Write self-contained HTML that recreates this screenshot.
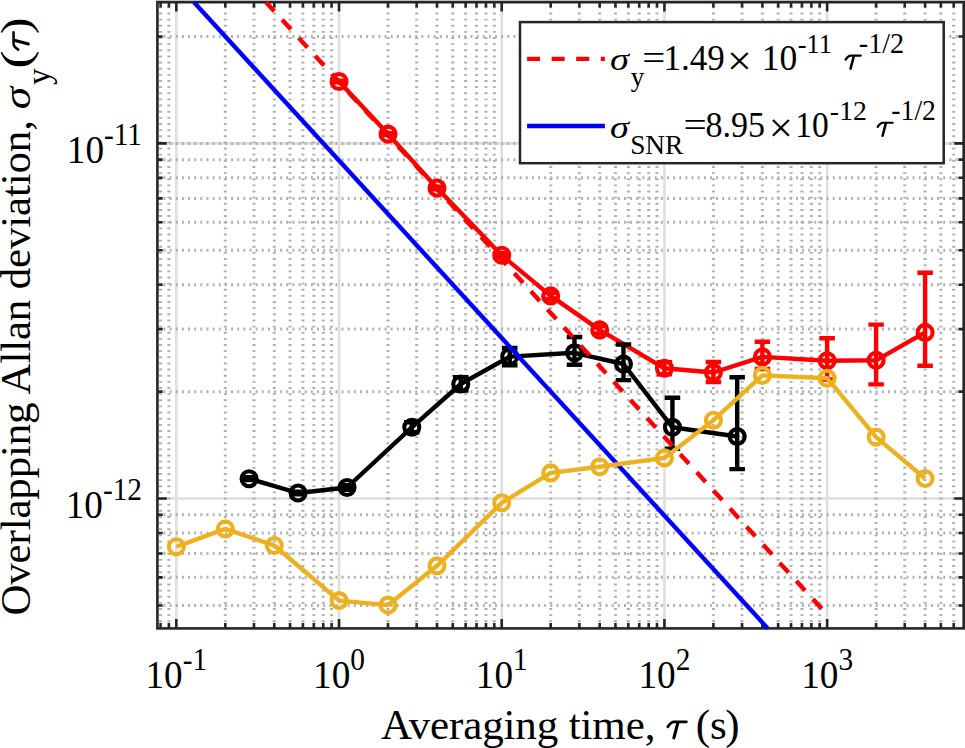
<!DOCTYPE html>
<html><head><meta charset="utf-8"><style>
html,body{margin:0;padding:0;background:#fff;width:965px;height:748px;overflow:hidden;}
svg{display:block;font-family:"Liberation Serif",serif;}
</style></head><body>
<svg width="965" height="748" viewBox="0 0 965 748"><rect x="0" y="0" width="965" height="748" fill="#fff"/>
<line x1="176.33" y1="2.2" x2="176.33" y2="628.4" stroke="#dedede" stroke-width="2.6"/>
<line x1="339.03" y1="2.2" x2="339.03" y2="628.4" stroke="#dedede" stroke-width="2.6"/>
<line x1="501.73" y1="2.2" x2="501.73" y2="628.4" stroke="#dedede" stroke-width="2.6"/>
<line x1="664.43" y1="2.2" x2="664.43" y2="628.4" stroke="#dedede" stroke-width="2.6"/>
<line x1="827.13" y1="2.2" x2="827.13" y2="628.4" stroke="#dedede" stroke-width="2.6"/>
<line x1="157.4" y1="143.40" x2="963.7" y2="143.40" stroke="#dedede" stroke-width="2.6"/>
<line x1="157.4" y1="498.55" x2="963.7" y2="498.55" stroke="#dedede" stroke-width="2.6"/>
<line x1="160.56" y1="628.4" x2="160.56" y2="2.2" stroke="#afafaf" stroke-width="3" stroke-dasharray="1.9 4.24"/>
<line x1="168.89" y1="628.4" x2="168.89" y2="2.2" stroke="#afafaf" stroke-width="3" stroke-dasharray="1.9 4.24"/>
<line x1="225.31" y1="628.4" x2="225.31" y2="2.2" stroke="#afafaf" stroke-width="3" stroke-dasharray="1.9 4.24"/>
<line x1="253.96" y1="628.4" x2="253.96" y2="2.2" stroke="#afafaf" stroke-width="3" stroke-dasharray="1.9 4.24"/>
<line x1="274.29" y1="628.4" x2="274.29" y2="2.2" stroke="#afafaf" stroke-width="3" stroke-dasharray="1.9 4.24"/>
<line x1="290.05" y1="628.4" x2="290.05" y2="2.2" stroke="#afafaf" stroke-width="3" stroke-dasharray="1.9 4.24"/>
<line x1="302.94" y1="628.4" x2="302.94" y2="2.2" stroke="#afafaf" stroke-width="3" stroke-dasharray="1.9 4.24"/>
<line x1="313.83" y1="628.4" x2="313.83" y2="2.2" stroke="#afafaf" stroke-width="3" stroke-dasharray="1.9 4.24"/>
<line x1="323.26" y1="628.4" x2="323.26" y2="2.2" stroke="#afafaf" stroke-width="3" stroke-dasharray="1.9 4.24"/>
<line x1="331.59" y1="628.4" x2="331.59" y2="2.2" stroke="#afafaf" stroke-width="3" stroke-dasharray="1.9 4.24"/>
<line x1="388.01" y1="628.4" x2="388.01" y2="2.2" stroke="#afafaf" stroke-width="3" stroke-dasharray="1.9 4.24"/>
<line x1="416.66" y1="628.4" x2="416.66" y2="2.2" stroke="#afafaf" stroke-width="3" stroke-dasharray="1.9 4.24"/>
<line x1="436.99" y1="628.4" x2="436.99" y2="2.2" stroke="#afafaf" stroke-width="3" stroke-dasharray="1.9 4.24"/>
<line x1="452.75" y1="628.4" x2="452.75" y2="2.2" stroke="#afafaf" stroke-width="3" stroke-dasharray="1.9 4.24"/>
<line x1="465.64" y1="628.4" x2="465.64" y2="2.2" stroke="#afafaf" stroke-width="3" stroke-dasharray="1.9 4.24"/>
<line x1="476.53" y1="628.4" x2="476.53" y2="2.2" stroke="#afafaf" stroke-width="3" stroke-dasharray="1.9 4.24"/>
<line x1="485.96" y1="628.4" x2="485.96" y2="2.2" stroke="#afafaf" stroke-width="3" stroke-dasharray="1.9 4.24"/>
<line x1="494.29" y1="628.4" x2="494.29" y2="2.2" stroke="#afafaf" stroke-width="3" stroke-dasharray="1.9 4.24"/>
<line x1="550.71" y1="628.4" x2="550.71" y2="2.2" stroke="#afafaf" stroke-width="3" stroke-dasharray="1.9 4.24"/>
<line x1="579.36" y1="628.4" x2="579.36" y2="2.2" stroke="#afafaf" stroke-width="3" stroke-dasharray="1.9 4.24"/>
<line x1="599.69" y1="628.4" x2="599.69" y2="2.2" stroke="#afafaf" stroke-width="3" stroke-dasharray="1.9 4.24"/>
<line x1="615.45" y1="628.4" x2="615.45" y2="2.2" stroke="#afafaf" stroke-width="3" stroke-dasharray="1.9 4.24"/>
<line x1="628.34" y1="628.4" x2="628.34" y2="2.2" stroke="#afafaf" stroke-width="3" stroke-dasharray="1.9 4.24"/>
<line x1="639.23" y1="628.4" x2="639.23" y2="2.2" stroke="#afafaf" stroke-width="3" stroke-dasharray="1.9 4.24"/>
<line x1="648.66" y1="628.4" x2="648.66" y2="2.2" stroke="#afafaf" stroke-width="3" stroke-dasharray="1.9 4.24"/>
<line x1="656.99" y1="628.4" x2="656.99" y2="2.2" stroke="#afafaf" stroke-width="3" stroke-dasharray="1.9 4.24"/>
<line x1="713.41" y1="628.4" x2="713.41" y2="2.2" stroke="#afafaf" stroke-width="3" stroke-dasharray="1.9 4.24"/>
<line x1="742.06" y1="628.4" x2="742.06" y2="2.2" stroke="#afafaf" stroke-width="3" stroke-dasharray="1.9 4.24"/>
<line x1="762.39" y1="628.4" x2="762.39" y2="2.2" stroke="#afafaf" stroke-width="3" stroke-dasharray="1.9 4.24"/>
<line x1="778.15" y1="628.4" x2="778.15" y2="2.2" stroke="#afafaf" stroke-width="3" stroke-dasharray="1.9 4.24"/>
<line x1="791.04" y1="628.4" x2="791.04" y2="2.2" stroke="#afafaf" stroke-width="3" stroke-dasharray="1.9 4.24"/>
<line x1="801.93" y1="628.4" x2="801.93" y2="2.2" stroke="#afafaf" stroke-width="3" stroke-dasharray="1.9 4.24"/>
<line x1="811.36" y1="628.4" x2="811.36" y2="2.2" stroke="#afafaf" stroke-width="3" stroke-dasharray="1.9 4.24"/>
<line x1="819.69" y1="628.4" x2="819.69" y2="2.2" stroke="#afafaf" stroke-width="3" stroke-dasharray="1.9 4.24"/>
<line x1="876.11" y1="628.4" x2="876.11" y2="2.2" stroke="#afafaf" stroke-width="3" stroke-dasharray="1.9 4.24"/>
<line x1="904.76" y1="628.4" x2="904.76" y2="2.2" stroke="#afafaf" stroke-width="3" stroke-dasharray="1.9 4.24"/>
<line x1="925.09" y1="628.4" x2="925.09" y2="2.2" stroke="#afafaf" stroke-width="3" stroke-dasharray="1.9 4.24"/>
<line x1="940.85" y1="628.4" x2="940.85" y2="2.2" stroke="#afafaf" stroke-width="3" stroke-dasharray="1.9 4.24"/>
<line x1="953.74" y1="628.4" x2="953.74" y2="2.2" stroke="#afafaf" stroke-width="3" stroke-dasharray="1.9 4.24"/>
<line x1="157.4" y1="605.46" x2="963.7" y2="605.46" stroke="#afafaf" stroke-width="3" stroke-dasharray="1.9 4.24"/>
<line x1="157.4" y1="577.34" x2="963.7" y2="577.34" stroke="#afafaf" stroke-width="3" stroke-dasharray="1.9 4.24"/>
<line x1="157.4" y1="553.56" x2="963.7" y2="553.56" stroke="#afafaf" stroke-width="3" stroke-dasharray="1.9 4.24"/>
<line x1="157.4" y1="532.97" x2="963.7" y2="532.97" stroke="#afafaf" stroke-width="3" stroke-dasharray="1.9 4.24"/>
<line x1="157.4" y1="514.80" x2="963.7" y2="514.80" stroke="#afafaf" stroke-width="3" stroke-dasharray="1.9 4.24"/>
<line x1="157.4" y1="391.64" x2="963.7" y2="391.64" stroke="#afafaf" stroke-width="3" stroke-dasharray="1.9 4.24"/>
<line x1="157.4" y1="329.10" x2="963.7" y2="329.10" stroke="#afafaf" stroke-width="3" stroke-dasharray="1.9 4.24"/>
<line x1="157.4" y1="284.73" x2="963.7" y2="284.73" stroke="#afafaf" stroke-width="3" stroke-dasharray="1.9 4.24"/>
<line x1="157.4" y1="250.31" x2="963.7" y2="250.31" stroke="#afafaf" stroke-width="3" stroke-dasharray="1.9 4.24"/>
<line x1="157.4" y1="222.19" x2="963.7" y2="222.19" stroke="#afafaf" stroke-width="3" stroke-dasharray="1.9 4.24"/>
<line x1="157.4" y1="198.41" x2="963.7" y2="198.41" stroke="#afafaf" stroke-width="3" stroke-dasharray="1.9 4.24"/>
<line x1="157.4" y1="177.82" x2="963.7" y2="177.82" stroke="#afafaf" stroke-width="3" stroke-dasharray="1.9 4.24"/>
<line x1="157.4" y1="159.65" x2="963.7" y2="159.65" stroke="#afafaf" stroke-width="3" stroke-dasharray="1.9 4.24"/>
<line x1="157.4" y1="143.40" x2="963.7" y2="143.40" stroke="#afafaf" stroke-width="3" stroke-dasharray="1.9 4.24"/>
<line x1="157.4" y1="36.49" x2="963.7" y2="36.49" stroke="#afafaf" stroke-width="3" stroke-dasharray="1.9 4.24"/>
<path d="M176.33,628.4v-9.4M176.33,2.2v9.4M339.03,628.4v-9.4M339.03,2.2v9.4M501.73,628.4v-9.4M501.73,2.2v9.4M664.43,628.4v-9.4M664.43,2.2v9.4M827.13,628.4v-9.4M827.13,2.2v9.4M160.56,628.4v-5.3M160.56,2.2v5.3M168.89,628.4v-5.3M168.89,2.2v5.3M225.31,628.4v-5.3M225.31,2.2v5.3M253.96,628.4v-5.3M253.96,2.2v5.3M274.29,628.4v-5.3M274.29,2.2v5.3M290.05,628.4v-5.3M290.05,2.2v5.3M302.94,628.4v-5.3M302.94,2.2v5.3M313.83,628.4v-5.3M313.83,2.2v5.3M323.26,628.4v-5.3M323.26,2.2v5.3M331.59,628.4v-5.3M331.59,2.2v5.3M388.01,628.4v-5.3M388.01,2.2v5.3M416.66,628.4v-5.3M416.66,2.2v5.3M436.99,628.4v-5.3M436.99,2.2v5.3M452.75,628.4v-5.3M452.75,2.2v5.3M465.64,628.4v-5.3M465.64,2.2v5.3M476.53,628.4v-5.3M476.53,2.2v5.3M485.96,628.4v-5.3M485.96,2.2v5.3M494.29,628.4v-5.3M494.29,2.2v5.3M550.71,628.4v-5.3M550.71,2.2v5.3M579.36,628.4v-5.3M579.36,2.2v5.3M599.69,628.4v-5.3M599.69,2.2v5.3M615.45,628.4v-5.3M615.45,2.2v5.3M628.34,628.4v-5.3M628.34,2.2v5.3M639.23,628.4v-5.3M639.23,2.2v5.3M648.66,628.4v-5.3M648.66,2.2v5.3M656.99,628.4v-5.3M656.99,2.2v5.3M713.41,628.4v-5.3M713.41,2.2v5.3M742.06,628.4v-5.3M742.06,2.2v5.3M762.39,628.4v-5.3M762.39,2.2v5.3M778.15,628.4v-5.3M778.15,2.2v5.3M791.04,628.4v-5.3M791.04,2.2v5.3M801.93,628.4v-5.3M801.93,2.2v5.3M811.36,628.4v-5.3M811.36,2.2v5.3M819.69,628.4v-5.3M819.69,2.2v5.3M876.11,628.4v-5.3M876.11,2.2v5.3M904.76,628.4v-5.3M904.76,2.2v5.3M925.09,628.4v-5.3M925.09,2.2v5.3M940.85,628.4v-5.3M940.85,2.2v5.3M953.74,628.4v-5.3M953.74,2.2v5.3M157.4,143.40h9.4M963.7,143.40h-9.4M157.4,498.55h9.4M963.7,498.55h-9.4M157.4,605.46h5.3M963.7,605.46h-5.3M157.4,577.34h5.3M963.7,577.34h-5.3M157.4,553.56h5.3M963.7,553.56h-5.3M157.4,532.97h5.3M963.7,532.97h-5.3M157.4,514.80h5.3M963.7,514.80h-5.3M157.4,391.64h5.3M963.7,391.64h-5.3M157.4,329.10h5.3M963.7,329.10h-5.3M157.4,284.73h5.3M963.7,284.73h-5.3M157.4,250.31h5.3M963.7,250.31h-5.3M157.4,222.19h5.3M963.7,222.19h-5.3M157.4,198.41h5.3M963.7,198.41h-5.3M157.4,177.82h5.3M963.7,177.82h-5.3M157.4,159.65h5.3M963.7,159.65h-5.3M157.4,36.49h5.3M963.7,36.49h-5.3" stroke="#262626" stroke-width="2.6" fill="none"/>
<rect x="155.9" y="0" width="809.1" height="1" fill="#d2d2d2"/>
<rect x="157.4" y="2.2" width="806.30" height="626.20" fill="none" stroke="#262626" stroke-width="2.6"/>
<g fill="none" stroke-linejoin="round">
<polyline points="339.03,81.45 388.01,134.10 436.99,188.00 501.73,255.30 550.71,295.90 599.69,329.90 664.43,368.30 713.41,372.50 762.39,356.90 827.13,360.70 876.11,360.30 925.09,332.40" stroke="#ff0000" stroke-width="4.4"/>
<circle cx="339.03" cy="81.45" r="7.5" stroke="#ff0000" stroke-width="4.1"/>
<circle cx="388.01" cy="134.10" r="7.5" stroke="#ff0000" stroke-width="4.1"/>
<circle cx="436.99" cy="188.00" r="7.5" stroke="#ff0000" stroke-width="4.1"/>
<circle cx="501.73" cy="255.30" r="7.5" stroke="#ff0000" stroke-width="4.1"/>
<circle cx="550.71" cy="295.90" r="7.5" stroke="#ff0000" stroke-width="4.1"/>
<circle cx="599.69" cy="329.90" r="7.5" stroke="#ff0000" stroke-width="4.1"/>
<circle cx="664.43" cy="368.30" r="7.5" stroke="#ff0000" stroke-width="4.1"/>
<circle cx="713.41" cy="372.50" r="7.5" stroke="#ff0000" stroke-width="4.1"/>
<circle cx="762.39" cy="356.90" r="7.5" stroke="#ff0000" stroke-width="4.1"/>
<circle cx="827.13" cy="360.70" r="7.5" stroke="#ff0000" stroke-width="4.1"/>
<circle cx="876.11" cy="360.30" r="7.5" stroke="#ff0000" stroke-width="4.1"/>
<circle cx="925.09" cy="332.40" r="7.5" stroke="#ff0000" stroke-width="4.1"/>
<path d="M339.03,80.65V82.25M331.28,80.65H346.78M331.28,82.25H346.78" stroke="#ff0000" stroke-width="4.4" stroke-linecap="butt"/>
<path d="M388.01,133.10V135.10M380.26,133.10H395.76M380.26,135.10H395.76" stroke="#ff0000" stroke-width="4.4" stroke-linecap="butt"/>
<path d="M436.99,186.70V189.30M429.24,186.70H444.74M429.24,189.30H444.74" stroke="#ff0000" stroke-width="4.4" stroke-linecap="butt"/>
<path d="M501.73,253.30V257.30M493.98,253.30H509.48M493.98,257.30H509.48" stroke="#ff0000" stroke-width="4.4" stroke-linecap="butt"/>
<path d="M550.71,292.90V298.90M542.96,292.90H558.46M542.96,298.90H558.46" stroke="#ff0000" stroke-width="4.4" stroke-linecap="butt"/>
<path d="M599.69,326.40V333.40M591.94,326.40H607.44M591.94,333.40H607.44" stroke="#ff0000" stroke-width="4.4" stroke-linecap="butt"/>
<path d="M664.43,362.30V374.30M656.68,362.30H672.18M656.68,374.30H672.18" stroke="#ff0000" stroke-width="4.4" stroke-linecap="butt"/>
<path d="M713.41,362.00V382.00M705.66,362.00H721.16M705.66,382.00H721.16" stroke="#ff0000" stroke-width="4.4" stroke-linecap="butt"/>
<path d="M762.39,341.80V369.00M754.64,341.80H770.14M754.64,369.00H770.14" stroke="#ff0000" stroke-width="4.4" stroke-linecap="butt"/>
<path d="M827.13,338.20V379.50M819.38,338.20H834.88M819.38,379.50H834.88" stroke="#ff0000" stroke-width="4.4" stroke-linecap="butt"/>
<path d="M876.11,324.60V384.40M868.36,324.60H883.86M868.36,384.40H883.86" stroke="#ff0000" stroke-width="4.4" stroke-linecap="butt"/>
<path d="M925.09,272.70V365.70M917.34,272.70H932.84M917.34,365.70H932.84" stroke="#ff0000" stroke-width="4.4" stroke-linecap="butt"/>
<polyline points="249.08,478.70 298.06,493.00 347.04,487.50 411.78,427.30 460.76,384.00 509.74,356.60 574.48,352.80 623.46,364.00 672.44,427.30 737.18,436.50" stroke="#000000" stroke-width="4.4"/>
<circle cx="249.08" cy="478.70" r="7.5" stroke="#000000" stroke-width="4.1"/>
<circle cx="298.06" cy="493.00" r="7.5" stroke="#000000" stroke-width="4.1"/>
<circle cx="347.04" cy="487.50" r="7.5" stroke="#000000" stroke-width="4.1"/>
<circle cx="411.78" cy="427.30" r="7.5" stroke="#000000" stroke-width="4.1"/>
<circle cx="460.76" cy="384.00" r="7.5" stroke="#000000" stroke-width="4.1"/>
<circle cx="509.74" cy="356.60" r="7.5" stroke="#000000" stroke-width="4.1"/>
<circle cx="574.48" cy="352.80" r="7.5" stroke="#000000" stroke-width="4.1"/>
<circle cx="623.46" cy="364.00" r="7.5" stroke="#000000" stroke-width="4.1"/>
<circle cx="672.44" cy="427.30" r="7.5" stroke="#000000" stroke-width="4.1"/>
<circle cx="737.18" cy="436.50" r="7.5" stroke="#000000" stroke-width="4.1"/>
<path d="M249.08,477.30V480.10M241.33,477.30H256.83M241.33,480.10H256.83" stroke="#000000" stroke-width="4.4" stroke-linecap="butt"/>
<path d="M298.06,491.70V494.30M290.31,491.70H305.81M290.31,494.30H305.81" stroke="#000000" stroke-width="4.4" stroke-linecap="butt"/>
<path d="M347.04,485.30V489.70M339.29,485.30H354.79M339.29,489.70H354.79" stroke="#000000" stroke-width="4.4" stroke-linecap="butt"/>
<path d="M411.78,422.30V432.30M404.03,422.30H419.53M404.03,432.30H419.53" stroke="#000000" stroke-width="4.4" stroke-linecap="butt"/>
<path d="M460.76,377.20V390.50M453.01,377.20H468.51M453.01,390.50H468.51" stroke="#000000" stroke-width="4.4" stroke-linecap="butt"/>
<path d="M509.74,348.00V365.20M501.99,348.00H517.49M501.99,365.20H517.49" stroke="#000000" stroke-width="4.4" stroke-linecap="butt"/>
<path d="M574.48,337.00V364.80M566.73,337.00H582.23M566.73,364.80H582.23" stroke="#000000" stroke-width="4.4" stroke-linecap="butt"/>
<path d="M623.46,344.50V380.10M615.71,344.50H631.21M615.71,380.10H631.21" stroke="#000000" stroke-width="4.4" stroke-linecap="butt"/>
<path d="M672.44,397.80V448.70M664.69,397.80H680.19M664.69,448.70H680.19" stroke="#000000" stroke-width="4.4" stroke-linecap="butt"/>
<path d="M737.18,377.20V469.10M729.43,377.20H744.93M729.43,469.10H744.93" stroke="#000000" stroke-width="4.4" stroke-linecap="butt"/>
<line x1="193.98" y1="2.20" x2="767.73" y2="628.40" stroke="#0000ff" stroke-width="4.4"/>
<line x1="266.01" y1="2.20" x2="827.13" y2="614.62" stroke="#ff0000" stroke-width="4.4" stroke-dasharray="13 11.554" stroke-dashoffset="0.739"/>
<polyline points="176.33,546.70 225.31,528.90 274.29,545.50 339.03,600.60 388.01,605.10 436.99,565.80 501.73,502.80 550.71,472.90 599.69,466.70 664.43,457.90 713.41,420.20 762.39,375.40 827.13,378.20 876.11,437.10 925.09,478.50" stroke="#edb120" stroke-width="4.4"/>
<circle cx="176.33" cy="546.70" r="7.5" stroke="#edb120" stroke-width="4.1"/>
<circle cx="225.31" cy="528.90" r="7.5" stroke="#edb120" stroke-width="4.1"/>
<circle cx="274.29" cy="545.50" r="7.5" stroke="#edb120" stroke-width="4.1"/>
<circle cx="339.03" cy="600.60" r="7.5" stroke="#edb120" stroke-width="4.1"/>
<circle cx="388.01" cy="605.10" r="7.5" stroke="#edb120" stroke-width="4.1"/>
<circle cx="436.99" cy="565.80" r="7.5" stroke="#edb120" stroke-width="4.1"/>
<circle cx="501.73" cy="502.80" r="7.5" stroke="#edb120" stroke-width="4.1"/>
<circle cx="550.71" cy="472.90" r="7.5" stroke="#edb120" stroke-width="4.1"/>
<circle cx="599.69" cy="466.70" r="7.5" stroke="#edb120" stroke-width="4.1"/>
<circle cx="664.43" cy="457.90" r="7.5" stroke="#edb120" stroke-width="4.1"/>
<circle cx="713.41" cy="420.20" r="7.5" stroke="#edb120" stroke-width="4.1"/>
<circle cx="762.39" cy="375.40" r="7.5" stroke="#edb120" stroke-width="4.1"/>
<circle cx="827.13" cy="378.20" r="7.5" stroke="#edb120" stroke-width="4.1"/>
<circle cx="876.11" cy="437.10" r="7.5" stroke="#edb120" stroke-width="4.1"/>
<circle cx="925.09" cy="478.50" r="7.5" stroke="#edb120" stroke-width="4.1"/>
</g>
<text transform="translate(176.33,688) scale(0.96,1.05)" text-anchor="middle" font-family="Liberation Serif" font-size="38.8" fill="#000">10<tspan font-size="30.6" dy="-17.24">-1</tspan></text>
<text transform="translate(339.03,688) scale(0.96,1.05)" text-anchor="middle" font-family="Liberation Serif" font-size="38.8" fill="#000">10<tspan font-size="30.6" dy="-17.24">0</tspan></text>
<text transform="translate(501.73,688) scale(0.96,1.05)" text-anchor="middle" font-family="Liberation Serif" font-size="38.8" fill="#000">10<tspan font-size="30.6" dy="-17.24">1</tspan></text>
<text transform="translate(664.43,688) scale(0.96,1.05)" text-anchor="middle" font-family="Liberation Serif" font-size="38.8" fill="#000">10<tspan font-size="30.6" dy="-17.24">2</tspan></text>
<text transform="translate(827.13,688) scale(0.96,1.05)" text-anchor="middle" font-family="Liberation Serif" font-size="38.8" fill="#000">10<tspan font-size="30.6" dy="-17.24">3</tspan></text>
<text transform="translate(142.05,163.20) scale(0.96,1.05)" text-anchor="end" font-family="Liberation Serif" font-size="38.8" fill="#000">10<tspan font-size="30.6" dy="-17.24">-11</tspan></text>
<text transform="translate(142.05,518.30) scale(0.96,1.05)" text-anchor="end" font-family="Liberation Serif" font-size="38.8" fill="#000">10<tspan font-size="30.6" dy="-17.24">-12</tspan></text>
<text x="380.9" y="739.4" font-family="Liberation Serif" font-size="43" fill="#000" textLength="274.5" lengthAdjust="spacing">Averaging time,</text>
<g transform="translate(666.50,739.40) scale(1.0000)" fill="none" stroke="#000" stroke-linecap="round"><path d="M1.3,-12.6 C2.9,-15.2 4.6,-17.6 7.6,-17.6 L19.9,-17.6" stroke-width="2.7"/><path d="M11.4,-16.8 L7.4,-1.6" stroke-width="3.1"/></g>
<text x="695.71" y="739.40" font-size="43" font-family="Liberation Serif" fill="#000" >(</text>
<text x="709.94" y="739.40" font-size="43" font-family="Liberation Serif" fill="#000" >s</text>
<text x="725.31" y="739.40" font-size="43" font-family="Liberation Serif" fill="#000" >)</text>
<g transform="translate(30,615.6) rotate(-90)">
<text x="0" y="0" font-family="Liberation Serif" font-size="43" fill="#000" textLength="495.5" lengthAdjust="spacing">Overlapping Allan deviation,</text>
<text transform="translate(506.35,0.30) scale(1.0568,0.8615)" font-size="43" font-family="Liberation Serif" font-style="italic" fill="#000" >σ</text>
<text transform="translate(530.60,19.80) scale(1.0020,1.0000)" font-size="33" font-family="Liberation Serif" fill="#000" >y</text>
<text transform="translate(546.97,0.00) scale(1.2858,1.0000)" font-size="43" font-family="Liberation Serif" fill="#000" >(</text>
<g transform="translate(564.70,0.00) scale(0.9346)" fill="none" stroke="#000" stroke-linecap="round"><path d="M1.3,-12.6 C2.9,-15.2 4.6,-17.6 7.6,-17.6 L19.9,-17.6" stroke-width="2.7"/><path d="M11.4,-16.8 L7.4,-1.6" stroke-width="3.1"/></g>
<text transform="translate(581.52,0.00) scale(1.1409,1.0000)" font-size="43" font-family="Liberation Serif" fill="#000" >)</text>
</g>
<rect x="520" y="22.1" width="423.7" height="141.1" fill="#fff" stroke="#262626" stroke-width="2.5"/>
<line x1="527.1" y1="58.9" x2="604.9" y2="58.9" stroke="#ff0000" stroke-width="4.4" stroke-dasharray="13 11.554"/>
<line x1="527.1" y1="126" x2="604.9" y2="126" stroke="#0000ff" stroke-width="4.4"/>
<text transform="translate(610.05,70.30) scale(1.0867,0.8905)" font-size="35.5" font-family="Liberation Serif" font-style="italic" fill="#000" >σ</text>
<text transform="translate(630.77,86.30) scale(0.9845,1.0000)" font-size="27.5" font-family="Liberation Serif" fill="#000" >y</text>
<text transform="translate(642.17,70.30) scale(1.1502,1.0000)" font-size="35.5" font-family="Liberation Serif" fill="#000" >=</text>
<text transform="translate(663.52,70.30) scale(0.9887,1.0000)" font-size="35.5" font-family="Liberation Serif" fill="#000" >1.49</text>
<text transform="translate(726.92,75.24) scale(1.2397,1.1898)" font-size="35.5" font-family="Liberation Serif" fill="#000" >×</text>
<text transform="translate(761.77,70.30) scale(1.0023,1.0000)" font-size="35.5" font-family="Liberation Serif" fill="#000" >10</text>
<text transform="translate(797.72,53.00) scale(0.9563,1.0301)" font-size="27.5" font-family="Liberation Serif" fill="#000" >-11</text>
<g transform="translate(844.50,70.00) scale(0.8178)" fill="none" stroke="#000" stroke-linecap="round"><path d="M1.3,-12.6 C2.9,-15.2 4.6,-17.6 7.6,-17.6 L19.9,-17.6" stroke-width="2.7"/><path d="M11.4,-16.8 L7.4,-1.6" stroke-width="3.1"/></g>
<text transform="translate(858.75,53.00) scale(1.0273,1.0764)" font-size="27.5" font-family="Liberation Serif" fill="#000" >-1/2</text>
<text transform="translate(610.05,137.50) scale(1.0867,0.8905)" font-size="35.5" font-family="Liberation Serif" font-style="italic" fill="#000" >σ</text>
<text transform="translate(630.17,154.00) scale(0.9939,1.0000)" font-size="27.5" font-family="Liberation Serif" fill="#000" >SNR</text>
<text transform="translate(683.55,137.20) scale(1.1623,1.0000)" font-size="35.5" font-family="Liberation Serif" fill="#000" >=</text>
<text transform="translate(705.40,137.20) scale(0.9581,1.0000)" font-size="35.5" font-family="Liberation Serif" fill="#000" >8.95</text>
<text transform="translate(768.72,142.38) scale(1.2051,1.1759)" font-size="35.5" font-family="Liberation Serif" fill="#000" >×</text>
<text transform="translate(795.25,137.20) scale(0.9443,1.0000)" font-size="35.5" font-family="Liberation Serif" fill="#000" >10</text>
<text transform="translate(829.87,119.60) scale(1.0111,0.9941)" font-size="27.5" font-family="Liberation Serif" fill="#000" >-12</text>
<g transform="translate(876.60,137.00) scale(0.8084)" fill="none" stroke="#000" stroke-linecap="round"><path d="M1.3,-12.6 C2.9,-15.2 4.6,-17.6 7.6,-17.6 L19.9,-17.6" stroke-width="2.7"/><path d="M11.4,-16.8 L7.4,-1.6" stroke-width="3.1"/></g>
<text transform="translate(891.37,119.60) scale(1.0057,1.0435)" font-size="27.5" font-family="Liberation Serif" fill="#000" >-1/2</text></svg>
</body></html>
